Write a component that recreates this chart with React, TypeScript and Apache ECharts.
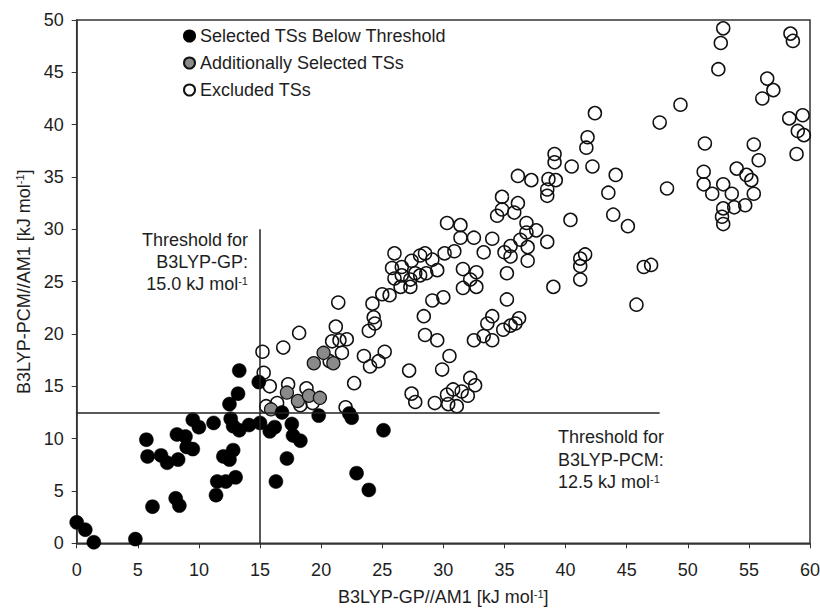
import { useEffect, useRef } from 'react';
import * as echarts from 'echarts';

// Selected TSs below threshold (B3LYP-GP, B3LYP-PCM) in kJ/mol
const selectedPts: [number, number][] = [
  [0, 2.0], [0.7, 1.3], [1.4, 0.1], [4.8, 0.4], [5.7, 9.9], [5.8, 8.3], [6.2, 3.5],
  [6.9, 8.4], [7.4, 7.7], [8.3, 8.0], [8.2, 10.4], [8.1, 4.3], [8.4, 3.6], [8.9, 10.2],
  [9.0, 9.2], [9.5, 9.0], [9.5, 11.8], [10.0, 11.1], [11.2, 11.5], [11.4, 4.6], [11.5, 5.9],
  [12.2, 5.9], [13.0, 6.3], [12.0, 8.3], [12.5, 8.0], [12.8, 8.9], [12.5, 13.3], [13.2, 14.3],
  [13.3, 16.5], [12.6, 11.9], [12.8, 11.2], [13.3, 10.8], [14.1, 11.3], [15.0, 11.5],
  [14.9, 15.4], [15.8, 10.7], [16.2, 11.1], [16.3, 5.9], [16.8, 12.5], [17.2, 8.1],
  [17.6, 11.4], [17.7, 10.3], [18.3, 9.8], [19.8, 12.2], [22.3, 12.4], [22.5, 12.0],
  [22.9, 6.7], [23.9, 5.1], [25.1, 10.8],
];

// Additionally selected TSs
const additionalPts: [number, number][] = [
  [15.9, 12.8], [17.2, 14.4], [18.1, 13.6], [19.0, 14.1], [19.9, 13.9], [19.4, 17.2],
  [20.2, 18.2], [21.0, 17.2],
];

// Excluded TSs
const excludedPts: [number, number][] = [
  [15.2, 18.3], [15.3, 16.3], [15.8, 15.0], [15.5, 13.1], [16.4, 13.4], [16.9, 18.7],
  [17.3, 15.2], [18.2, 20.1], [18.8, 14.8], [19.3, 13.4], [18.3, 13.2], [20.7, 17.4],
  [20.9, 19.3], [21.2, 20.7], [21.5, 19.4], [22.1, 19.5], [21.7, 18.2], [22.0, 13.0],
  [22.7, 15.3], [21.4, 23.0], [23.5, 17.9], [24.0, 16.9], [24.7, 17.4], [25.2, 18.3],
  [23.9, 20.3], [24.4, 21.0], [24.3, 21.6], [24.2, 22.9], [25.0, 23.8], [25.6, 23.7],
  [26.0, 27.7], [25.8, 26.3], [26.6, 26.4], [27.4, 27.0], [28.1, 27.5], [28.5, 27.7],
  [29.1, 27.1], [29.5, 26.1], [27.7, 25.8], [28.6, 25.8], [26.0, 25.3], [26.6, 25.6],
  [27.3, 25.2], [28.1, 25.6], [26.5, 24.5], [27.3, 24.5], [29.1, 23.2], [30.0, 23.5],
  [28.4, 21.7], [28.5, 19.9], [29.5, 19.4], [27.2, 16.5], [27.4, 14.3], [27.7, 13.5],
  [29.3, 13.4], [30.3, 14.2], [30.4, 13.3], [31.1, 13.1], [30.8, 14.7], [31.5, 14.5],
  [32.0, 14.1], [32.2, 15.8], [32.6, 15.1], [29.9, 16.6], [30.5, 17.9], [30.3, 30.6],
  [31.4, 30.4], [31.4, 29.2], [32.5, 29.2], [34.0, 29.1], [30.9, 27.9], [30.1, 27.7],
  [33.3, 27.8], [31.6, 26.2], [32.7, 25.9], [32.2, 25.2], [31.6, 24.4], [32.7, 24.5],
  [35.5, 28.4], [35.0, 27.8], [35.5, 27.4], [36.3, 29.0], [36.8, 30.6], [36.8, 29.7],
  [36.9, 27.0], [36.9, 28.3], [37.6, 29.9], [38.5, 28.8], [35.2, 25.8], [35.2, 23.3],
  [34.8, 33.1], [36.1, 32.5], [34.8, 31.9], [34.4, 31.3], [35.8, 31.6], [32.5, 19.4],
  [33.3, 19.8], [34.0, 19.4], [33.6, 21.0], [34.0, 21.7], [34.9, 20.4], [35.5, 20.8],
  [35.9, 21.0], [36.2, 21.5], [39.0, 24.5], [41.2, 27.2], [41.6, 27.6], [41.2, 26.5],
  [41.2, 25.2], [46.4, 26.4], [47.0, 26.6], [45.8, 22.8], [36.1, 35.1], [37.2, 34.7],
  [38.6, 34.8], [39.2, 34.7], [38.5, 33.8], [38.5, 33.2], [40.4, 30.9], [41.8, 38.8],
  [41.7, 37.8], [39.1, 37.2], [39.1, 36.4], [40.5, 36.0], [42.2, 36.0], [44.1, 35.2],
  [43.5, 33.5], [43.9, 31.4], [45.1, 30.3], [48.3, 33.9], [42.4, 41.1], [47.7, 40.2],
  [49.4, 41.9], [52.9, 49.2], [52.7, 47.8], [52.5, 45.3], [58.4, 48.7], [58.6, 48.0],
  [56.5, 44.4], [57.0, 43.3], [56.1, 42.5], [58.3, 40.6], [59.4, 40.9], [59.0, 39.4],
  [59.5, 39.0], [58.9, 37.2], [51.4, 38.2], [55.4, 38.1], [55.8, 36.6], [54.0, 35.8],
  [54.8, 35.2], [55.2, 34.7], [55.4, 33.4], [54.7, 32.3], [53.8, 32.1], [53.6, 33.4],
  [52.9, 34.3], [52.9, 32.0], [52.8, 31.2], [52.9, 30.5], [51.3, 35.5], [51.3, 34.3],
  [52.0, 33.4],
];

const legendNames = ['Selected TSs Below Threshold', 'Additionally Selected TSs', 'Excluded TSs'];
const gpThreshold = 15.0;
const gpLineTop = 30;
const pcmThreshold = 12.5;
const pcmLineEnd = 47.7;

const FONT = 'Liberation Sans, Arial, Helvetica, sans-serif';
const TXT = '#1e1e1e';

export default function App() {
  const ref = useRef<HTMLDivElement>(null);
  useEffect(() => {
    const chart = echarts.init(ref.current!, null, { renderer: 'svg' });
    const rich = {
      a: { fontSize: 18, fontFamily: FONT, fontWeight: 'normal' as const, color: TXT },
      s: {
        fontSize: 11, fontFamily: FONT, fontWeight: 'normal' as const, color: TXT,
        verticalAlign: 'top' as const, lineHeight: 18,
      },
    };
    const plain = { font: `normal 18px ${FONT}`, fill: TXT };
    chart.setOption({
      animation: false,
      backgroundColor: '#fff',
      grid: {
        left: 76.7, right: 10, top: 20, bottom: 64.7,
        containLabel: false,
        outerBoundsMode: 'none',
        show: true, borderColor: '#333', borderWidth: 1.5, backgroundColor: 'transparent',
      },
      legend: {
        orient: 'vertical',
        left: 178,
        top: 22,
        itemWidth: 11,
        itemHeight: 11,
        itemGap: 9,
        icon: 'circle',
        data: legendNames,
        textStyle: { fontSize: 18, fontFamily: FONT, color: TXT },
        selectedMode: false,
      },
      xAxis: {
        type: 'value', min: 0, max: 60, interval: 5,
        name: '{a|B3LYP-GP//AM1 [kJ mol}{s|-1}{a|]}',
        nameLocation: 'middle', nameGap: 45,
        nameTextStyle: { rich },
        axisLine: { show: true, lineStyle: { color: '#333', width: 1.5 } },
        axisTick: { show: true, length: 5, lineStyle: { color: '#333' } },
        axisLabel: { fontSize: 18, fontFamily: FONT, color: TXT, margin: 18 },
        splitLine: { show: false },
      },
      yAxis: {
        type: 'value', min: 0, max: 50, interval: 5,
        name: '{a|B3LYP-PCM//AM1 [kJ mol}{s|-1}{a|]}',
        nameLocation: 'middle', nameGap: 38, nameRotate: 90,
        nameTextStyle: { rich },
        axisLine: { show: true, lineStyle: { color: '#333', width: 1.5 } },
        axisTick: { show: true, length: 5, lineStyle: { color: '#333' } },
        axisLabel: { fontSize: 18, fontFamily: FONT, color: TXT, margin: 13 },
        splitLine: { show: false },
      },
      series: [
        {
          name: legendNames[2], type: 'scatter', z: 2, symbol: 'circle', symbolSize: 13,
          data: excludedPts,
          itemStyle: { color: 'rgba(255,255,255,0)', borderColor: '#111', borderWidth: 1.5, opacity: 1 },
          markLine: {
            silent: true, symbol: 'none', label: { show: false },
            lineStyle: { color: '#222', width: 1.5, type: 'solid' },
            data: [
              [{ coord: [gpThreshold, 0] }, { coord: [gpThreshold, gpLineTop] }],
              [{ coord: [0, pcmThreshold] }, { coord: [pcmLineEnd, pcmThreshold] }],
            ],
          },
        },
        {
          name: legendNames[1], type: 'scatter', z: 3, symbol: 'circle', symbolSize: 13,
          data: additionalPts,
          itemStyle: { color: '#8a8a8a', borderColor: '#111', borderWidth: 1.3, opacity: 1 },
        },
        {
          name: legendNames[0], type: 'scatter', z: 4, symbol: 'circle', symbolSize: 14,
          data: selectedPts,
          itemStyle: { color: '#000', borderColor: '#000', borderWidth: 0.5, opacity: 1 },
        },
      ],
      graphic: [
        { type: 'text', right: 820 - 248, top: 231, style: { ...plain, text: 'Threshold for', align: 'right' } },
        { type: 'text', right: 820 - 248, top: 253, style: { ...plain, text: 'B3LYP-GP:', align: 'right' } },
        { type: 'text', right: 820 - 248, top: 275, style: { ...plain, text: '{a|15.0 kJ mol}{s|-1}', rich, align: 'right' } },
        { type: 'text', left: 558, top: 428, style: { ...plain, text: 'Threshold for' } },
        { type: 'text', left: 558, top: 451, style: { ...plain, text: 'B3LYP-PCM:' } },
        { type: 'text', left: 558, top: 473, style: { ...plain, text: '{a|12.5 kJ mol}{s|-1}', rich } },
      ],
    });
    return () => chart.dispose();
  }, []);
  return (
    <div
      ref={ref}
      style={{ position: 'fixed', left: 0, top: 0, width: 820, height: 608, background: '#fff' }}
    />
  );
}
